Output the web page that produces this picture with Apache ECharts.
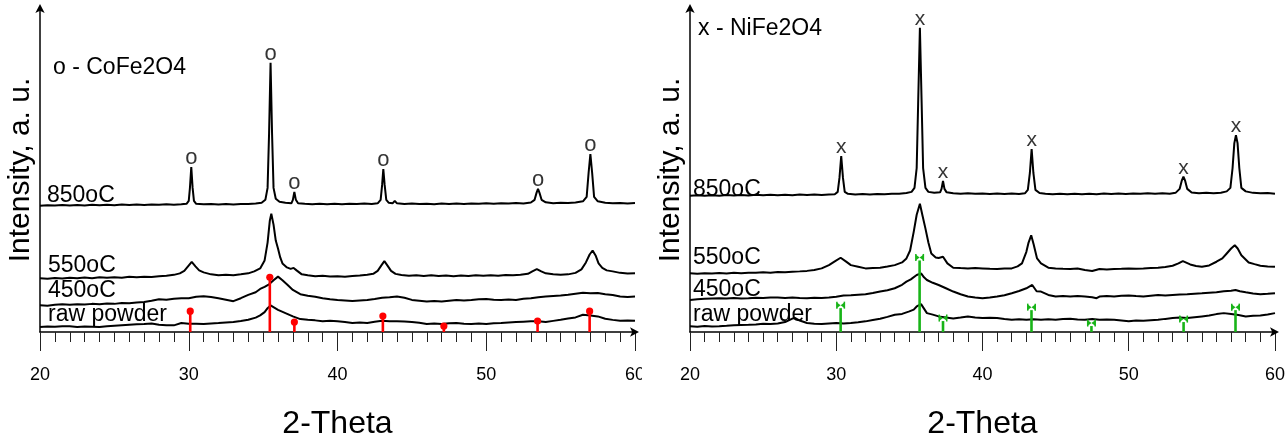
<!DOCTYPE html>
<html>
<head>
<meta charset="utf-8">
<script src="https://cdn.jsdelivr.net/npm/echarts@6/dist/echarts.min.js"></script>
<style>
html,body{margin:0;padding:0;background:#fff;}
#chart{width:1288px;height:445px;}
</style>
</head>
<body>
<div id="chart"></div>
<script>
// ---------- DATA (2-Theta, intensity a.u.) ----------
const xTicks = [20, 30, 40, 50, 60];
const seriesNames = ['850oC', '550oC', '450oC', 'raw powder'];

// Left panel: CoFe2O4
const co850 = [[20,127.0],[20.5,127.6],[21,127.2],[21.5,127.8],[22,127.3],[22.5,127.9],[23,127.4],[23.5,128.0],[24,127.5],[24.5,128.1],[25,127.6],[25.5,128.2],[26,127.7],[26.5,128.3],[27,127.9],[27.5,128.4],[28,128.0],[28.5,128.5],[29,128.1],[29.5,128.6],[29.85,129.0],[30.0,132],[30.08,145],[30.17,166],[30.26,145],[30.35,132],[30.5,129],[31,128.5],[31.5,128.9],[32,128.3],[32.5,128.8],[33,128.4],[33.5,128.9],[34,128.7],[34.5,129.3],[34.9,130],[35.15,133],[35.3,145],[35.4,200],[35.5,271],[35.6,200],[35.7,145],[35.85,134],[36.1,131],[36.5,130],[36.9,129.5],[37.0,133],[37.1,141],[37.2,133],[37.35,129.5],[37.8,129],[38.3,128.6],[38.8,129],[39.3,128.5],[39.8,129],[40.3,128.6],[40.8,129.1],[41.3,128.7],[41.8,129.2],[42.3,128.8],[42.7,129.5],[42.9,133],[43.0,148],[43.08,164],[43.17,148],[43.28,133],[43.45,130],[43.7,129.5],[43.85,132],[44.0,129.5],[44.5,128.8],[45,129.2],[45.5,128.7],[46,129.1],[46.5,128.6],[47,129.2],[47.5,128.8],[48,129.3],[48.5,128.9],[49,129.4],[49.5,129.0],[50,129.5],[50.5,129.1],[51,129.6],[51.5,129.2],[52,129.7],[52.5,129.4],[53.0,130.3],[53.25,133],[53.38,140],[53.48,144],[53.58,140],[53.72,133],[54.0,130.5],[54.5,129.6],[55,130.1],[55.5,129.7],[56,130.3],[56.5,131.5],[56.75,136],[56.88,160],[57.0,179],[57.12,160],[57.25,136],[57.5,131.5],[58,130],[58.5,129.5],[59,129.9],[59.5,129.4],[60,129.8]];
const co550 = [[20,54],[20.5,53.5],[21,54.3],[21.5,53.8],[22,54.6],[22.5,54.1],[23,54.8],[23.5,54.2],[24,55],[24.5,54.5],[25,55.2],[25.5,54.7],[26,55.5],[26.5,55],[27,55.7],[27.5,55.3],[28,56],[28.5,56.5],[29,57.5],[29.4,59],[29.7,61.5],[29.95,66],[30.2,70.5],[30.45,66],[30.7,62],[31,60],[31.5,58],[32,57],[32.5,57.5],[33,57.2],[33.5,58],[34,59],[34.4,61],[34.8,64],[35.1,72],[35.3,90],[35.45,112],[35.55,119],[35.7,108],[35.85,92],[36.0,84],[36.15,75],[36.3,69],[36.6,65],[36.85,63.5],[37.05,64.5],[37.25,62],[37.6,58],[38,57],[38.5,56],[39,56.5],[39.5,55.8],[40,56.2],[40.5,55.7],[41,56.3],[41.5,56.8],[42,57.5],[42.4,58.5],[42.7,61.5],[42.95,67],[43.15,71.3],[43.35,67],[43.6,61.5],[43.9,58.5],[44.3,57.3],[44.8,56.5],[45.3,57],[45.8,56.4],[46.3,57],[46.8,56.3],[47.3,56.8],[47.8,56.2],[48.3,56.9],[48.8,56.4],[49.3,57],[49.8,56.6],[50.3,57.2],[50.8,56.7],[51.3,57.3],[51.8,57],[52.3,57.6],[52.8,58.5],[53.1,61],[53.4,63.3],[53.7,61],[54.0,59],[54.5,58],[55,57.5],[55.5,58],[56,59.5],[56.4,63],[56.7,70],[56.95,78],[57.15,82],[57.35,77],[57.55,69],[57.8,64.5],[58.1,62],[58.5,61],[59,59.5],[59.5,58.8],[60,59]];
const co450 = [[20,27],[20.5,26.5],[21,27.3],[21.5,27.8],[22,27.3],[22.5,28],[23,27.6],[23.5,28.3],[24,28],[24.5,28.6],[25,28.3],[25.5,29.2],[26,29],[26.5,29.8],[27,30.2],[27.5,31.5],[28,33],[28.5,32.5],[29,33.5],[29.5,34],[30,34],[30.5,35.5],[31,36],[31.5,35.2],[32,34],[32.5,32.5],[33,31],[33.5,34],[34,37.3],[34.5,40],[34.8,43.3],[35.1,45.5],[35.4,48],[35.7,52],[36.0,55.7],[36.3,52],[36.65,47.3],[37,42.3],[37.5,38],[38,36.5],[38.5,35.5],[39,34],[39.5,33],[40,32.3],[40.5,31.8],[41,31.3],[41.5,31.8],[42,32.3],[42.5,33.2],[43,34.5],[43.5,35],[44,35.7],[44.5,34.5],[45,32.3],[45.5,31.5],[46,30.7],[46.5,31.3],[47,30.7],[47.5,31.5],[48,32.3],[48.5,31.8],[49,32.3],[49.5,33],[50,33.3],[50.5,32.5],[51,32.3],[51.5,32.8],[52,32.3],[52.5,33.5],[53,34],[53.5,35],[54,35.7],[54.5,36.3],[55,36.7],[55.5,37.5],[56,38.5],[56.5,39.5],[57,39],[57.5,39.3],[58,38],[58.5,37.2],[59,35.7],[59.5,35.3],[60,35.7]];
const coRaw = [[20,5],[20.5,5.6],[21,5.2],[21.5,5.9],[22,5.7],[22.5,5.1],[23,5.6],[23.5,5.3],[24,5],[24.5,5.8],[25,6.3],[25.5,6.8],[26,7.3],[26.5,7.8],[27,8],[27.5,8.5],[28,7.3],[28.5,6.7],[29,6.7],[29.5,9],[30,8.3],[30.5,8.3],[31,8],[31.5,8.6],[32,9],[32.5,9.6],[33,10],[33.5,11],[34,12.3],[34.5,14.5],[34.8,16.7],[35.1,20],[35.3,24],[35.5,26.7],[35.75,24.5],[36,22.3],[36.5,19],[37,15.7],[37.5,13],[38,12.3],[38.5,11.7],[39,10.7],[39.5,11.2],[40,10.7],[40.5,10],[41,9],[41.5,9.5],[42,9],[42.5,10.3],[43,11.3],[43.5,10.8],[44,10.7],[44.5,10.5],[45,10],[45.5,9.3],[46,8],[46.5,8.6],[47,8],[47.5,8.8],[48,9],[48.5,8.4],[49,8],[49.5,8.6],[50,8],[50.5,8.7],[51,9],[51.5,9.5],[52,10],[52.5,10.4],[53,10.7],[53.5,10.7],[54,10],[54.5,11.2],[55,12.3],[55.5,13.5],[56,14.7],[56.5,17.3],[57,16.7],[57.5,15.7],[58,13.3],[58.5,12.2],[59,11.3],[59.5,11.6],[60,11.3]];
const coPeakMarks = [[30.17,166],[35.5,271],[37.1,141],[43.08,164],[53.48,144],[57.0,179]];
const coRefSticks = [[30.1,21],[35.45,55],[37.1,10],[43.05,16],[47.15,6],[53.45,11],[56.95,21]];

// Right panel: NiFe2O4
const ni850 = [[20,137],[20.5,137.5],[21,137.1],[21.5,137.7],[22,137.2],[22.5,137.8],[23,137.3],[23.5,137.9],[24,137.4],[24.5,138],[25,137.5],[25.5,138.1],[26,137.6],[26.5,138.2],[27,137.7],[27.5,138.3],[28,137.8],[28.5,138.3],[29,137.9],[29.5,138.4],[29.9,138.6],[30.1,141],[30.22,155],[30.34,177],[30.46,155],[30.58,141],[30.8,139],[31.3,138.4],[31.8,138.9],[32.3,138.3],[32.8,138.9],[33.3,138.5],[33.8,139],[34.3,139.2],[34.8,139.8],[35.15,141],[35.35,145],[35.5,165],[35.6,230],[35.72,306],[35.84,230],[35.94,165],[36.1,145],[36.3,141],[36.7,140],[37.1,140.5],[37.2,144],[37.3,152],[37.4,144],[37.55,140.5],[38,139.5],[38.5,139],[39,139.5],[39.5,139],[40,139.4],[40.5,138.9],[41,139.3],[41.5,138.8],[42,139.3],[42.5,138.8],[42.9,139.5],[43.1,143],[43.24,160],[43.36,184],[43.48,160],[43.62,143],[43.9,139.8],[44.3,139],[44.8,138.6],[45.3,139.1],[45.8,138.5],[46.3,139.1],[46.8,138.6],[47.3,139.2],[47.8,138.7],[48.3,139.3],[48.8,138.8],[49.3,139.4],[49.8,138.9],[50.3,139.4],[50.8,139],[51.3,139.5],[51.8,139.1],[52.3,139.6],[52.8,139.2],[53.2,140],[53.48,144],[53.62,152],[53.74,156.3],[53.86,152],[54.0,144],[54.3,140.3],[54.8,139.5],[55.3,140],[55.8,139.6],[56.3,140.2],[56.7,141.5],[56.95,145],[57.1,165],[57.22,190],[57.33,198],[57.44,190],[57.56,165],[57.7,145],[58,141.5],[58.5,140],[59,139.5],[59.5,139.8],[60,139.2]];
const ni550 = [[20,59],[20.5,58.6],[21,59.2],[21.5,58.8],[22,59.3],[22.5,58.9],[23,59.5],[23.5,59.1],[24,59.7],[24.5,59.5],[25,60],[25.5,59.6],[26,60.3],[26.5,60],[27,60.7],[27.5,61],[28,61.5],[28.5,62.3],[29,64],[29.5,67.3],[29.9,71],[30.3,74.7],[30.7,70.5],[31,67.3],[31.5,65.7],[32,64],[32.5,64.5],[33,64.7],[33.5,65.8],[34,67.3],[34.5,70],[34.8,74],[35.05,82],[35.3,101],[35.5,118],[35.72,129],[35.9,117],[36.1,104],[36.3,90],[36.5,79],[36.8,75],[37.0,74.5],[37.3,75.7],[37.6,69],[38,64.7],[38.5,64.3],[39,64],[39.5,64.4],[40,64],[40.5,63.6],[41,63.3],[41.5,63.8],[42,64],[42.4,66],[42.7,69],[43.0,80.7],[43.15,90],[43.33,97.3],[43.5,88],[43.73,74],[44,69],[44.5,64.7],[45,64],[45.5,63.6],[46,63.3],[46.5,63.8],[47,62.3],[47.5,61.3],[48,63.3],[48.5,63],[49,63.3],[49.5,63.6],[50,64],[50.5,63.7],[51,64],[51.5,64.4],[52,64.7],[52.5,65.5],[53,66.7],[53.4,69],[53.7,71.3],[54.2,68],[54.6,66.5],[55,65.7],[55.5,67],[56,70.7],[56.4,74],[56.7,79],[57.0,84],[57.25,87.3],[57.45,84],[57.7,77.3],[58.2,70],[58.6,68.3],[59,66.7],[59.5,66],[60,65.7]];
const ni450 = [[20,32.3],[20.5,33],[21,33.5],[21.5,33.8],[22,34],[22.5,33.6],[23,34.2],[23.5,33.8],[24,34],[24.5,34.5],[25,34.3],[25.5,34.8],[26,34.7],[26.5,34.2],[27,34.6],[27.5,34.2],[28,34],[28.5,34.5],[29,34.3],[29.5,34.7],[30,35.5],[30.5,36.7],[31,37],[31.5,37.5],[32,38],[32.5,39.2],[33,40.7],[33.5,42],[34,44],[34.5,47.5],[34.8,50.7],[35.1,53],[35.5,57.3],[35.8,59],[36.0,55],[36.2,52.3],[36.6,49.5],[37,47.3],[37.5,44],[38,40.7],[38.5,38],[39,35.7],[39.5,34.8],[40,34],[40.5,34.8],[41,35.7],[41.5,37],[42,39],[42.5,41.2],[43,44],[43.4,47.3],[43.7,41],[44,40.7],[44.5,37.3],[45,35.7],[45.5,36.3],[46,35.7],[46.5,36.2],[47,35.7],[47.5,35],[47.8,34],[48,35.7],[48.5,36.2],[49,35.7],[49.5,36.4],[50,36.7],[50.5,36.1],[51,35.7],[51.5,36.5],[52,37.3],[52.5,36.8],[53,37.3],[53.5,37.8],[54,38],[54.5,38.6],[55,39],[55.5,39.5],[56,40],[56.5,41],[57,41.6],[57.3,42.3],[57.6,41],[58,40],[58.5,38.8],[59,38],[59.5,38.4],[60,39]];
const niRaw = [[20,5.7],[20.5,5.3],[21,6],[21.5,5.5],[22,5.7],[22.5,6.2],[23,6.8],[23.5,7.1],[24,7.3],[24.5,7.6],[25,8.2],[25.5,8],[26,8.5],[26.5,10],[27,13.5],[27.2,14],[27.5,11.5],[28,9],[28.5,8.3],[29,8],[29.5,8.6],[30,9],[30.5,8.6],[31,9],[31.5,9.8],[32,10.7],[32.5,12],[33,13.3],[33.5,15.2],[34,17.3],[34.5,18.2],[35,20.7],[35.3,22.5],[35.5,25.7],[35.8,28],[36.0,23.5],[36.2,19],[36.6,17.5],[37,15.7],[37.5,14.5],[38,13.7],[38.5,14.5],[39,15.7],[39.5,14.7],[40,14],[40.5,14.4],[41,14],[41.5,13],[42,12.3],[42.5,12.8],[43,12.3],[43.5,12.8],[44,12.3],[44.5,12.8],[45,12.3],[45.5,13],[46,13.3],[46.5,12.5],[47,12.3],[47.5,13],[48,12.3],[48.5,12.7],[49,12.3],[49.5,11.5],[50,10.7],[50.5,11.6],[51,11.3],[51.5,11.9],[52,12.3],[52.5,13.2],[53,14],[53.5,14.5],[54,14],[54.5,14.9],[55,15.7],[55.5,16.5],[56,18],[56.5,19],[57,18],[57.5,17],[58,15.7],[58.5,16.3],[59,16.7],[59.5,17.7],[60,19]];
const niPeakMarks = [[30.34,177],[35.72,306],[37.3,152],[43.36,184],[53.74,156.3],[57.33,198]];
const niRefSticks = [[30.3,24],[35.7,72],[37.3,11],[43.35,22],[47.45,6],[53.75,10],[57.3,22]];

// ---------- CHART ----------
const FONT = '"Liberation Sans", Arial, Helvetica, sans-serif';
const chart = echarts.init(document.getElementById('chart'), null, {renderer: 'canvas'});

function xAxisCfg(gi) {
  return {
    type: 'value', gridIndex: gi, min: 20, max: 60, interval: 10,
    name: '2-Theta', nameLocation: 'middle', nameGap: 76,
    nameTextStyle: {fontSize: 32, color: '#000', fontFamily: FONT},
    axisLine: {show: true, onZero: false, symbol: ['none', 'arrow'], symbolSize: [7, 9], symbolOffset: [0, 4],
      lineStyle: {color: '#000', width: 1.5}},
    axisTick: {show: true, inside: false, length: 19, lineStyle: {color: '#222', width: 1}},
    minorTick: {show: true, splitNumber: 10, length: 10, lineStyle: {color: '#222', width: 1}},
    axisLabel: {show: true, margin: 34, fontSize: 18, color: '#000', fontFamily: FONT},
    splitLine: {show: false}, minorSplitLine: {show: false}
  };
}
function yAxisCfg(gi) {
  return {
    type: 'value', gridIndex: gi, min: 0, max: 326,
    name: 'Intensity, a. u.', nameLocation: 'middle', nameGap: 4, nameRotate: 90,
    nameTextStyle: {fontSize: 30, color: '#000', fontFamily: FONT},
    axisLine: {show: true, symbol: ['none', 'arrow'], symbolSize: [7, 9], symbolOffset: [0, 4],
      lineStyle: {color: '#000', width: 1.5}},
    axisTick: {show: false}, axisLabel: {show: false}, splitLine: {show: false}
  };
}
function traceSeries(name, data, gi) {
  return {
    name: name, type: 'line', xAxisIndex: gi, yAxisIndex: gi, data: data,
    showSymbol: false, symbol: 'none', smooth: false,
    lineStyle: {color: '#000', width: 2}, z: 2, silent: true
  };
}
function markSeries(data, gi, text) {
  return {
    type: 'scatter', xAxisIndex: gi, yAxisIndex: gi, data: data, symbolSize: 0.1, z: 3, silent: true,
    label: {show: true, position: 'top', distance: -2, formatter: text, fontSize: text === 'o' ? 22 : 21,
      color: '#000', fontFamily: FONT}
  };
}
function stickSeries(data, gi, color, kind) {
  return {
    type: 'custom', xAxisIndex: gi, yAxisIndex: gi, data: data, z: 5, silent: true,
    renderItem: function (params, api) {
      const x = api.value(0), h = api.value(1);
      const p0 = api.coord([x, 0]);
      const p1 = api.coord([x, h]);
      const children = [{
        type: 'line', shape: {x1: p0[0], y1: p0[1], x2: p1[0], y2: p1[1]},
        style: {stroke: color, lineWidth: 2.6}
      }];
      if (kind === 'dot') {
        children.push({type: 'circle', shape: {cx: p1[0], cy: p1[1], r: 3.6}, style: {fill: color}});
      } else {
        // bow-tie marker sitting on top of the stick
        const cx = p1[0], cy = p1[1] - 3;
        children.push({type: 'polygon', shape: {points: [[cx - 4, cy - 3], [cx, cy], [cx - 4, cy + 3]]}, style: {fill: color}});
        children.push({type: 'polygon', shape: {points: [[cx + 4, cy - 3], [cx, cy], [cx + 4, cy + 3]]}, style: {fill: color}});
        children.push({type: 'rect', shape: {x: cx - 4.5, y: cy - 3.5, width: 1.5, height: 7}, style: {fill: color}});
        children.push({type: 'rect', shape: {x: cx + 3, y: cy - 3.5, width: 1.5, height: 7}, style: {fill: color}});
      }
      return {type: 'group', children: children};
    }
  };
}
function textEl(t, x, y) {
  return {type: 'text', left: x, top: y, silent: true,
    style: {text: t, fontSize: 23, fill: '#000', font: '23px ' + FONT}};
}

const option = {
  animation: false,
  backgroundColor: '#fff',
  grid: [
    {left: 40, top: 8, width: 595, height: 326, containLabel: false},
    {left: 690, top: 8, width: 590, height: 326, containLabel: false}
  ],
  xAxis: [xAxisCfg(0), xAxisCfg(1)],
  yAxis: [yAxisCfg(0), yAxisCfg(1)],
  series: [
    traceSeries(seriesNames[0], co850, 0),
    traceSeries(seriesNames[1], co550, 0),
    traceSeries(seriesNames[2], co450, 0),
    traceSeries(seriesNames[3], coRaw, 0),
    markSeries(coPeakMarks, 0, 'o'),
    stickSeries(coRefSticks, 0, '#ff0000', 'dot'),
    traceSeries(seriesNames[0], ni850, 1),
    traceSeries(seriesNames[1], ni550, 1),
    traceSeries(seriesNames[2], ni450, 1),
    traceSeries(seriesNames[3], niRaw, 1),
    markSeries(niPeakMarks, 1, 'x'),
    stickSeries(niRefSticks, 1, '#18b418', 'bow')
  ],
  graphic: [
    textEl('o - CoFe2O4', 53, 56),
    textEl(seriesNames[0], 47, 184),
    textEl(seriesNames[1], 48, 254),
    textEl(seriesNames[2], 48, 279),
    textEl(seriesNames[3], 48, 303),
    textEl('x - NiFe2O4', 698, 17),
    textEl(seriesNames[0], 693, 178),
    textEl(seriesNames[1], 693, 246),
    textEl(seriesNames[2], 693, 278),
    textEl(seriesNames[3], 693, 303),
    // the left panel's last tick label is clipped by the right panel in the original
    {type: 'rect', left: 642, top: 362, silent: true, z: 100,
      shape: {width: 14, height: 30}, style: {fill: '#fff'}}
  ]
};
chart.setOption(option);
</script>
</body>
</html>
